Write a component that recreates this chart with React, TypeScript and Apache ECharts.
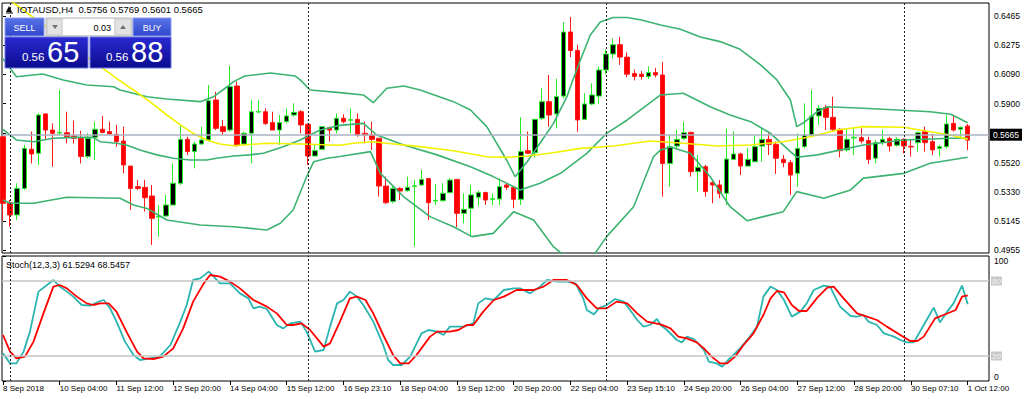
import React, { useEffect, useRef } from "react";
import * as echarts from "echarts";

const FONT = '"Liberation Sans", Arial, sans-serif';

const openP = [0.5687,0.5262,0.5183,0.5354,0.5606,0.5580,0.5834,0.5730,0.5711,0.5713,0.5692,0.5681,0.5559,0.5683,0.5735,0.5720,0.5702,0.5659,0.5498,0.5365,0.5361,0.5305,0.5170,0.5176,0.5247,0.5387,0.5670,0.5591,0.5640,0.5666,0.5924,0.5752,0.5730,0.6014,0.5640,0.5709,0.5846,0.5848,0.5778,0.5730,0.5784,0.5827,0.5848,0.5767,0.5563,0.5606,0.5745,0.5730,0.5806,0.5793,0.5799,0.5709,0.5698,0.5677,0.5369,0.5269,0.5354,0.5339,0.5367,0.5376,0.5417,0.5273,0.5275,0.5327,0.5412,0.5193,0.5226,0.5297,0.5327,0.5284,0.5286,0.5376,0.5361,0.5284,0.5597,0.5584,0.5806,0.5913,0.5834,0.5949,0.6362,0.6243,0.5799,0.5898,0.5949,0.6117,0.6220,0.6280,0.6200,0.6095,0.6090,0.6075,0.6100,0.6085,0.5515,0.5627,0.5677,0.5715,0.5462,0.5494,0.5391,0.5376,0.5322,0.5541,0.5576,0.5498,0.5526,0.5627,0.5670,0.5638,0.5541,0.5520,0.5451,0.5623,0.5698,0.5821,0.5876,0.5812,0.5735,0.5602,0.5679,0.5681,0.5662,0.5548,0.5649,0.5675,0.5632,0.5670,0.5625,0.5649,0.5720,0.5655,0.5612,0.5623,0.5773,0.5735,0.5756];
const highP = [0.5698,0.5279,0.5387,0.5634,0.5720,0.5838,0.5838,0.5773,0.5988,0.5848,0.5791,0.5726,0.5709,0.5784,0.5821,0.5784,0.5763,0.5752,0.5498,0.5408,0.5408,0.5376,0.5247,0.5312,0.5515,0.5756,0.5687,0.5655,0.5752,0.6020,0.5977,0.5795,0.6143,0.6042,0.5720,0.5924,0.5924,0.5870,0.5848,0.5827,0.5870,0.5902,0.5859,0.5773,0.5634,0.5752,0.5752,0.5838,0.5831,0.5870,0.5838,0.5784,0.5784,0.5677,0.5430,0.5369,0.5361,0.5430,0.5408,0.5473,0.5417,0.5382,0.5387,0.5419,0.5412,0.5322,0.5376,0.5339,0.5333,0.5322,0.5419,0.5387,0.5369,0.5812,0.5720,0.5799,0.5999,0.6085,0.6060,0.6426,0.6459,0.6280,0.5967,0.6031,0.6140,0.6250,0.6320,0.6330,0.6230,0.6120,0.6110,0.6140,0.6130,0.6169,0.5698,0.5730,0.5784,0.5720,0.5569,0.5505,0.5408,0.5408,0.5741,0.5720,0.5584,0.5612,0.5698,0.5741,0.5709,0.5655,0.5569,0.5537,0.5709,0.5902,0.5988,0.5891,0.5891,0.5945,0.5741,0.5741,0.5741,0.5741,0.5687,0.5666,0.5730,0.5687,0.5683,0.5677,0.5666,0.5720,0.5752,0.5705,0.5634,0.5827,0.5827,0.5752,0.5769];
const lowP = [0.5150,0.5107,0.5150,0.5344,0.5515,0.5505,0.5666,0.5494,0.5698,0.5644,0.5644,0.5515,0.5548,0.5537,0.5709,0.5698,0.5623,0.5451,0.5215,0.5344,0.5204,0.4989,0.5043,0.5172,0.5247,0.5376,0.5569,0.5483,0.5634,0.5655,0.5730,0.5698,0.5720,0.5623,0.5634,0.5515,0.5838,0.5763,0.5730,0.5634,0.5773,0.5816,0.5709,0.5505,0.5559,0.5602,0.5655,0.5709,0.5773,0.5709,0.5687,0.5644,0.5602,0.5301,0.5253,0.5258,0.5279,0.5333,0.4979,0.5369,0.5150,0.5247,0.5269,0.5322,0.5103,0.5129,0.5043,0.5240,0.5247,0.5247,0.5247,0.5344,0.5226,0.5247,0.5576,0.5554,0.5795,0.5752,0.5741,0.5934,0.6200,0.5719,0.5795,0.5891,0.5898,0.6090,0.6190,0.6150,0.6070,0.6050,0.6055,0.6060,0.6070,0.5301,0.5365,0.5612,0.5666,0.5430,0.5333,0.5301,0.5258,0.5290,0.5247,0.5537,0.5440,0.5494,0.5520,0.5526,0.5569,0.5447,0.5490,0.5312,0.5365,0.5612,0.5692,0.5763,0.5730,0.5720,0.5554,0.5591,0.5569,0.5644,0.5511,0.5515,0.5634,0.5591,0.5623,0.5580,0.5559,0.5591,0.5591,0.5569,0.5559,0.5612,0.5720,0.5677,0.5601];
const closeP = [0.5258,0.5183,0.5354,0.5612,0.5576,0.5827,0.5730,0.5709,0.5715,0.5687,0.5677,0.5559,0.5677,0.5735,0.5715,0.5705,0.5655,0.5505,0.5354,0.5354,0.5294,0.5161,0.5174,0.5247,0.5387,0.5670,0.5591,0.5640,0.5666,0.5919,0.5741,0.5720,0.6010,0.5634,0.5709,0.5848,0.5850,0.5773,0.5730,0.5778,0.5821,0.5844,0.5763,0.5563,0.5597,0.5752,0.5730,0.5806,0.5784,0.5797,0.5698,0.5698,0.5670,0.5369,0.5262,0.5354,0.5337,0.5361,0.5371,0.5412,0.5262,0.5277,0.5322,0.5408,0.5193,0.5219,0.5312,0.5327,0.5279,0.5288,0.5365,0.5361,0.5284,0.5591,0.5580,0.5799,0.5913,0.5827,0.5945,0.6362,0.6243,0.5795,0.5898,0.5956,0.6117,0.6220,0.6280,0.6200,0.6090,0.6075,0.6075,0.6100,0.6085,0.5515,0.5623,0.5670,0.5713,0.5462,0.5490,0.5333,0.5376,0.5322,0.5543,0.5576,0.5498,0.5541,0.5623,0.5670,0.5638,0.5548,0.5520,0.5440,0.5612,0.5698,0.5821,0.5870,0.5812,0.5735,0.5597,0.5670,0.5683,0.5659,0.5541,0.5649,0.5670,0.5627,0.5670,0.5627,0.5621,0.5713,0.5649,0.5602,0.5623,0.5769,0.5730,0.5748,0.5665];

const upperBand = [[0,0.6190],[1.9,0.6074],[5.6,0.6091],[8.5,0.6053],[11.8,0.6020],[15.6,0.6009],[16.5,0.5988],[20.3,0.5945],[23.1,0.5930],[27.8,0.5913],[29.7,0.5945],[31.6,0.6009],[32.5,0.6042],[34.1,0.6078],[37.7,0.6098],[41.2,0.6078],[41.9,0.6053],[43.3,0.5988],[47.5,0.5971],[50.8,0.5956],[52.2,0.5906],[54.1,0.5999],[56.5,0.6014],[58.8,0.5988],[63.5,0.5913],[65.9,0.5859],[68.2,0.5752],[71.0,0.5537],[72.2,0.5429],[73.9,0.5526],[75.7,0.5645],[77.6,0.5773],[79.5,0.5945],[80.4,0.6060],[81.4,0.6181],[82.8,0.6343],[84.2,0.6426],[86.0,0.6455],[88.0,0.6455],[90.0,0.6439],[92.7,0.6407],[95.5,0.6380],[98.3,0.6330],[101.1,0.6300],[103.9,0.6250],[106.8,0.6150],[109.1,0.6053],[111.0,0.5924],[111.9,0.5752],[112.8,0.5775],[114.8,0.5848],[116.2,0.5880],[121.3,0.5870],[130.7,0.5848],[133.6,0.5832],[136,0.5777]];
const middleBand = [[0,0.5735],[1.9,0.5666],[4.3,0.5655],[7.1,0.5677],[10.4,0.5683],[12.7,0.5683],[13.7,0.5655],[16.0,0.5645],[17.4,0.5634],[19.3,0.5602],[21.7,0.5570],[24.0,0.5548],[26.4,0.5537],[28.7,0.5537],[30.1,0.5548],[32.5,0.5563],[34.8,0.5570],[36.7,0.5580],[39.5,0.5623],[41.9,0.5666],[44.7,0.5730],[47.5,0.5760],[50.8,0.5773],[52.7,0.5698],[56.5,0.5634],[61.2,0.5570],[65.9,0.5494],[69.1,0.5430],[72.0,0.5365],[72.9,0.5344],[75.7,0.5387],[78.6,0.5451],[82.3,0.5580],[85.1,0.5709],[88.0,0.5795],[92.7,0.5956],[95.9,0.5967],[99.7,0.5880],[102.5,0.5827],[105.4,0.5784],[108.2,0.5709],[111.0,0.5591],[111.9,0.5555],[114.8,0.5570],[121.3,0.5634],[127.0,0.5666],[133.6,0.5677],[136,0.5677]];
const lowerBand = [[0,0.5279],[1.0,0.5258],[4.3,0.5258],[9.0,0.5297],[16.5,0.5290],[18.4,0.5247],[20.3,0.5225],[23.1,0.5150],[27.8,0.5118],[32.5,0.5107],[37.2,0.5086],[39.1,0.5129],[40.9,0.5215],[42.8,0.5429],[43.8,0.5526],[45.7,0.5548],[47.5,0.5560],[51.8,0.5591],[53.2,0.5451],[56.5,0.5300],[60.2,0.5172],[63.5,0.5107],[66.1,0.5043],[69.1,0.5064],[72.0,0.5204],[74.8,0.5150],[77.6,0.4978],[79.5,0.4905],[83.3,0.4924],[85.1,0.5043],[88.9,0.5236],[91.7,0.5558],[92.7,0.5602],[94.1,0.5621],[96.9,0.5580],[99.7,0.5429],[102.5,0.5236],[104.9,0.5146],[107.2,0.5172],[110.0,0.5204],[111.9,0.5333],[115.7,0.5290],[119.5,0.5344],[121.3,0.5420],[127.0,0.5451],[130.7,0.5516],[136,0.5555]];
const maLine = [[0,0.6600],[8.0,0.6330],[16.3,0.6053],[18.4,0.5988],[20.7,0.5913],[23.1,0.5827],[25.0,0.5763],[26.8,0.5709],[28.7,0.5666],[30.6,0.5640],[32.5,0.5629],[37.2,0.5645],[41.9,0.5640],[47.5,0.5632],[49.4,0.5645],[52.2,0.5655],[54.1,0.5645],[58.8,0.5623],[63.5,0.5597],[68.2,0.5558],[71.0,0.5554],[73.9,0.5563],[77.6,0.5584],[81.4,0.5612],[86.1,0.5627],[91.2,0.5659],[95.9,0.5645],[100.7,0.5627],[105.4,0.5634],[110.0,0.5655],[113.8,0.5687],[117.6,0.5730],[121.3,0.5752],[127.0,0.5748],[129.8,0.5726],[133.6,0.5698],[136,0.5670]];

const stochK = [[0,22.1],[1.0,14.1],[1.9,14.1],[2.9,23.5],[3.8,39.5],[5.0,71.5],[6.2,76.8],[7.1,80.8],[8.0,75.5],[9.0,71.5],[9.9,67.5],[11.1,60.8],[12.3,60.3],[13.7,64.0],[14.2,64.8],[15.1,58.1],[16.0,47.5],[17.2,31.5],[18.4,20.8],[19.3,16.8],[20.7,18.1],[22.1,19.5],[23.6,28.8],[25.0,47.5],[25.9,60.8],[26.8,80.8],[27.8,82.1],[29.0,87.5],[29.7,83.5],[30.6,78.1],[32.0,78.1],[33.4,70.1],[34.6,66.1],[35.3,58.1],[36.2,59.5],[37.2,57.6],[38.6,44.8],[39.5,42.1],[40.5,46.1],[41.9,47.5],[42.8,39.5],[44.0,23.5],[45.2,24.8],[46.1,43.5],[47.1,62.1],[48.0,64.8],[48.9,71.5],[49.9,67.5],[50.8,60.8],[52.2,47.5],[53.6,28.8],[54.3,16.8],[55.0,12.8],[56.2,12.8],[57.4,19.5],[59.0,38.1],[60.0,40.8],[61.2,39.5],[62.1,36.8],[63.0,43.5],[64.9,43.5],[66.3,46.1],[67.0,62.1],[68.0,66.1],[69.2,64.8],[70.6,72.8],[72.0,74.1],[72.9,74.1],[74.3,70.1],[75.7,75.5],[76.7,80.8],[78.1,79.5],[79.5,79.5],[80.7,78.1],[81.8,66.1],[82.3,56.8],[83.3,53.3],[84.0,58.1],[85.1,60.8],[86.3,65.6],[87.5,63.5],[88.4,56.8],[89.4,48.8],[90.3,43.5],[91.2,44.8],[92.2,49.6],[92.7,44.8],[93.6,40.8],[95.0,32.8],[95.7,30.9],[96.4,35.5],[97.4,33.6],[98.8,24.8],[99.5,15.5],[100.6,14.1],[101.4,11.5],[102.1,16.0],[103.9,26.1],[105.3,35.5],[106.3,43.5],[107.2,67.5],[108.2,75.5],[109.1,72.8],[110.1,64.8],[111.2,51.5],[112.4,55.5],[113.3,62.1],[114.3,72.8],[115.7,76.3],[116.6,75.5],[118.0,59.5],[119.5,52.0],[120.4,51.5],[121.3,52.8],[122.0,47.5],[123.2,44.8],[124.2,38.1],[125.6,35.5],[126.5,32.8],[127.4,30.9],[128.4,30.9],[129.8,44.8],[131.2,58.7],[132.1,46.9],[133.1,55.5],[134.0,62.1],[135.2,76.3],[136,61.5]];
const stochD = [[0,36.8],[1.0,23.5],[1.9,18.1],[3.1,19.5],[4.3,31.5],[5.7,54.1],[7.1,75.5],[8.0,76.8],[9.0,74.1],[10.4,67.5],[11.8,62.1],[12.7,60.8],[13.7,62.1],[14.9,62.1],[16.0,55.5],[17.4,39.5],[18.9,23.5],[19.8,18.1],[21.2,17.6],[22.6,19.5],[24.0,26.1],[25.4,42.1],[26.8,63.5],[28.3,78.1],[29.2,84.8],[30.6,83.5],[32.0,79.5],[33.4,74.1],[35.3,64.8],[37.2,59.5],[38.6,54.1],[40.0,44.8],[40.9,44.8],[42.1,46.1],[43.3,40.8],[45.2,27.5],[46.1,30.1],[47.5,47.5],[48.9,66.1],[49.9,67.5],[51.1,64.8],[52.2,54.1],[53.6,36.8],[55.0,20.8],[56.0,14.1],[57.2,14.1],[58.3,20.8],[60.2,35.5],[61.2,39.5],[63.0,39.5],[64.2,40.8],[65.4,44.8],[66.3,44.8],[67.7,55.5],[69.2,64.8],[70.6,67.5],[72.4,72.8],[74.8,72.8],[76.2,75.5],[77.6,80.8],[79.5,80.8],[80.9,76.8],[82.3,66.1],[83.7,58.1],[85.1,58.1],[86.5,63.5],[88.0,62.1],[89.4,54.1],[90.8,47.5],[92.7,45.3],[94.1,42.1],[95.2,35.5],[96.4,34.1],[97.8,30.9],[98.8,26.1],[99.9,19.5],[101.1,14.1],[102.1,14.1],[103.2,19.5],[104.4,28.8],[105.8,38.1],[107.2,52.8],[108.2,66.1],[109.1,72.0],[110.1,70.9],[111.2,60.8],[112.2,56.0],[113.3,56.0],[114.8,66.7],[116.2,74.7],[117.1,75.5],[118.5,66.1],[120.4,54.1],[121.8,51.5],[123.2,48.8],[124.6,43.5],[126.5,36.8],[127.9,32.0],[128.9,32.0],[129.8,35.5],[131.4,50.1],[132.6,52.8],[134.3,56.8],[135.2,67.5],[136,68.5]];

const priceTicks = [0.4955, 0.5145, 0.5330, 0.5520, 0.5710, 0.5900, 0.6090, 0.6275, 0.6465];
const stochTicks = [0, 100];
const stochLevels = [80, 20];
const timeLabels = ["8 Sep 2018","10 Sep 04:00","11 Sep 12:00","12 Sep 20:00","14 Sep 04:00","15 Sep 12:00","16 Sep 23:10","18 Sep 04:00","19 Sep 12:00","20 Sep 20:00","22 Sep 04:00","23 Sep 15:10","24 Sep 20:00","26 Sep 04:00","27 Sep 12:00","28 Sep 20:00","30 Sep 07:10","1 Oct 12:00"];
const labelStep = 8;
const separators = [1, 43, 85, 127];
const lastPrice = 0.5665;
const headerText = "IOTAUSD,H4  0.5756 0.5769 0.5601 0.5665";
const stochTitle = "Stoch(12,3,3) 61.5294 68.5457";

const grad = (a: string, b: string) => ({
  type: "linear", x: 0, y: 0, x2: 0, y2: 1,
  colorStops: [{ offset: 0, color: a }, { offset: 1, color: b }],
});

export default function App() {
  const ref = useRef<HTMLDivElement>(null);
  useEffect(() => {
    const chart = echarts.init(ref.current!, null, { renderer: "svg" });
    const labelIdx = timeLabels.map((_, k) => k * labelStep);
    const candles = openP.map((o, i) => [i, o, closeP[i], lowP[i], highP[i]]);
    const sepLines = separators.map((x) => ({ xAxis: x }));
    const xMin = -0.14, xMax = 139;
    const Z = 100;
    const option: any = {
      animation: false,
      backgroundColor: "#ffffff",
      textStyle: { fontFamily: FONT },
      grid: [
        { left: 2, top: 3, width: 987, height: 250, show: true, borderColor: "#000", borderWidth: 1, backgroundColor: "#fff" },
        { left: 2, top: 256, width: 987, height: 125, show: true, borderColor: "#000", borderWidth: 1, backgroundColor: "#fff" },
      ],
      xAxis: [
        { type: "value", gridIndex: 0, min: xMin, max: xMax, show: false },
        {
          type: "value", gridIndex: 1, min: xMin, max: xMax,
          axisLine: { show: false },
          splitLine: { show: false },
          axisTick: { show: true, customValues: labelIdx, length: 4, lineStyle: { color: "#000" } },
          axisLabel: {
            customValues: labelIdx, align: "left", margin: 3, fontSize: 8, color: "#000", fontFamily: FONT,
            formatter: (v: number) => timeLabels[Math.round(v / labelStep)] ?? "",
          },
        },
      ],
      yAxis: [
        {
          type: "value", gridIndex: 0, position: "right", min: 0.49376, max: 0.65488,
          axisLine: { show: false }, splitLine: { show: false },
          axisTick: { show: true, customValues: priceTicks, length: 3, lineStyle: { color: "#000" } },
          axisLabel: { customValues: priceTicks, margin: 5, fontSize: 8.5, color: "#000", fontFamily: FONT, formatter: (v: number) => v.toFixed(4) },
        },
        {
          type: "value", gridIndex: 1, position: "right", min: 0, max: 100,
          axisLine: { show: false }, splitLine: { show: false },
          axisTick: { show: true, customValues: stochTicks, length: 3, lineStyle: { color: "#000" } },
          axisLabel: { customValues: stochTicks, margin: 5, fontSize: 8.5, color: "#000", fontFamily: FONT, verticalAlignMaxLabel: "top", verticalAlignMinLabel: "bottom" },
        },
      ],
      series: [
        {
          type: "candlestick", xAxisIndex: 0, yAxisIndex: 0, data: candles, barWidth: 5, clip: true,
          itemStyle: { color: "#000000", color0: "#ff0000", borderColor: "#22ee22", borderColor0: "#ff1a1a", borderWidth: 1 },
          markLine: {
            silent: true, symbol: ["none", "none"], animation: false,
            data: [
              { yAxis: lastPrice, lineStyle: { color: "#aab2c2", type: "solid", width: 1.5 },
                label: { show: true, position: "end", distance: 1, formatter: lastPrice.toFixed(4), backgroundColor: "#000", color: "#fff", fontSize: 8.5, fontFamily: FONT, padding: [2, 3, 1, 3] } },
              ...sepLines.map((d) => ({ ...d, lineStyle: { color: "#222", type: [2, 2], width: 1 }, label: { show: false } })),
            ],
          },
        },
        { type: "line", xAxisIndex: 0, yAxisIndex: 0, data: upperBand, showSymbol: false, smooth: false, lineStyle: { color: "#3cb371", width: 1.6 } },
        { type: "line", xAxisIndex: 0, yAxisIndex: 0, data: middleBand, showSymbol: false, lineStyle: { color: "#3cb371", width: 1.6 } },
        { type: "line", xAxisIndex: 0, yAxisIndex: 0, data: lowerBand, showSymbol: false, lineStyle: { color: "#3cb371", width: 1.6 } },
        { type: "line", xAxisIndex: 0, yAxisIndex: 0, data: maLine, showSymbol: false, lineStyle: { color: "#f2f200", width: 1.6 } },
        {
          type: "line", xAxisIndex: 1, yAxisIndex: 1, data: stochK, showSymbol: false, lineStyle: { color: "#2ab5b0", width: 1.8 },
          markLine: {
            silent: true, symbol: ["none", "none"],
            data: [
              ...stochLevels.map((lv) => ({ yAxis: lv, lineStyle: { color: "#c4c4c4", type: "solid", width: 1.5 },
                label: { show: true, position: "end", distance: 2, formatter: String(lv), backgroundColor: "#c8c8c8", color: "#f4f4f4", fontSize: 8, fontFamily: FONT, padding: [1, 1, 0, 1] } })),
              ...sepLines.map((d) => ({ ...d, lineStyle: { color: "#222", type: [2, 2], width: 1 }, label: { show: false } })),
            ],
          },
        },
        { type: "line", xAxisIndex: 1, yAxisIndex: 1, data: stochD, showSymbol: false, lineStyle: { color: "#ff0000", width: 1.8 } },
      ],
      graphic: [
        { type: "polygon", z: Z, shape: { points: [[6, 12], [9, 6], [12, 12]] }, style: { fill: "#000" } },
        { type: "line", z: Z, shape: { x1: 6, y1: 13, x2: 13, y2: 13 }, style: { stroke: "#000", lineWidth: 1 } },
        { type: "text", z: Z, x: 17, y: 9, style: { text: headerText, fontSize: 9.5, fontFamily: FONT, fill: "#000", verticalAlign: "middle" } },
        // SELL button
        { type: "rect", z: Z, shape: { x: 5, y: 18, width: 39, height: 18 }, style: { fill: grad("#5873e6", "#2f47cc"), stroke: "#8d9cf0", lineWidth: 1 } },
        { type: "text", z: Z, x: 24.5, y: 27.5, style: { text: "SELL", fill: "#fff", fontSize: 9, fontFamily: FONT, align: "center", verticalAlign: "middle" } },
        // spinner
        { type: "rect", z: Z, shape: { x: 46, y: 18, width: 86, height: 18 }, style: { fill: "#f0f0f0", stroke: "#b4b4b4", lineWidth: 1 } },
        { type: "rect", z: Z, shape: { x: 47, y: 19, width: 15, height: 16 }, style: { fill: "#e2e2e2", stroke: "#c8c8c8", lineWidth: 1 } },
        { type: "rect", z: Z, shape: { x: 63, y: 19, width: 51, height: 16 }, style: { fill: "#ffffff" } },
        { type: "rect", z: Z, shape: { x: 115, y: 19, width: 16, height: 16 }, style: { fill: "#e2e2e2", stroke: "#c8c8c8", lineWidth: 1 } },
        { type: "polygon", z: Z, shape: { points: [[52, 25], [58, 25], [55, 29]] }, style: { fill: "#707070" } },
        { type: "polygon", z: Z, shape: { points: [[120, 29], [126, 29], [123, 25]] }, style: { fill: "#707070" } },
        { type: "text", z: Z, x: 111, y: 27.5, style: { text: "0.03", fill: "#000", fontSize: 9, fontFamily: FONT, align: "right", verticalAlign: "middle" } },
        // BUY button
        { type: "rect", z: Z, shape: { x: 133, y: 18, width: 38, height: 18 }, style: { fill: grad("#5873e6", "#2f47cc"), stroke: "#8d9cf0", lineWidth: 1 } },
        { type: "text", z: Z, x: 152, y: 27.5, style: { text: "BUY", fill: "#fff", fontSize: 9, fontFamily: FONT, align: "center", verticalAlign: "middle" } },
        // price boxes
        { type: "rect", z: Z, shape: { x: 5, y: 37, width: 83, height: 31 }, style: { fill: grad("#2a2ad2", "#0b0b8e"), stroke: "#6c78e0", lineWidth: 1 } },
        { type: "rect", z: Z, shape: { x: 90, y: 37, width: 81, height: 31 }, style: { fill: grad("#2a2ad2", "#0b0b8e"), stroke: "#6c78e0", lineWidth: 1 } },
        { type: "text", z: Z, x: 22, y: 63, style: { text: "0.56", fill: "#fff", fontSize: 11.5, fontFamily: FONT, verticalAlign: "bottom" } },
        { type: "text", z: Z, x: 47, y: 66, style: { text: "65", fill: "#fff", fontSize: 29, fontFamily: FONT, verticalAlign: "bottom" } },
        { type: "text", z: Z, x: 106, y: 63, style: { text: "0.56", fill: "#fff", fontSize: 11.5, fontFamily: FONT, verticalAlign: "bottom" } },
        { type: "text", z: Z, x: 131, y: 66, style: { text: "88", fill: "#fff", fontSize: 29, fontFamily: FONT, verticalAlign: "bottom" } },
        // stoch title
        { type: "text", z: Z, x: 6, y: 265, style: { text: stochTitle, fill: "#000", fontSize: 9, fontFamily: FONT, verticalAlign: "middle" } },
      ],
    };
    chart.setOption(option);
    return () => chart.dispose();
  }, []);
  return <div ref={ref} style={{ position: "absolute", left: 0, top: 0, width: 1024, height: 399, background: "#fff" }} />;
}
